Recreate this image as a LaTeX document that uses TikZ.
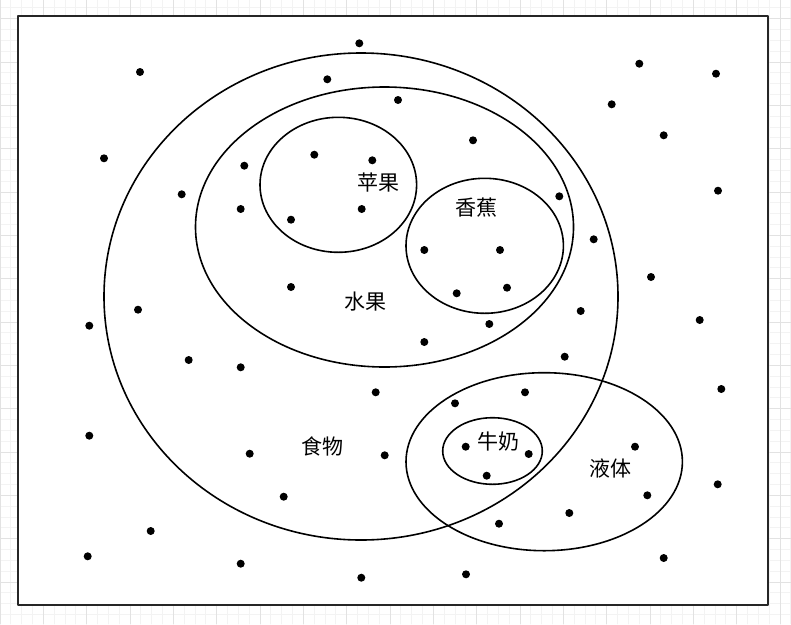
\documentclass[tikz,border=0pt]{standalone}
\usepackage{fontspec}
\setmainfont{Noto Sans CJK SC}
\definecolor{gridminor}{HTML}{F3F3F3}
\definecolor{gridmajor}{HTML}{E2E2E2}
\tikzset{
  setline/.style={line width=1.6pt},
  setlabel/.style={font=\fontsize{21}{23}\selectfont, inner sep=0pt},
  elem/.style={fill=black}
}
\begin{document}
\begin{tikzpicture}[x=1pt, y=-1pt, line join=round, line cap=round]
		\useasboundingbox (0,0) rectangle (791,624);
		% canvas grid
		\foreach \k in {0,...,73}
			\draw[gridminor, line width=0.8pt] (\k*10.833,0) -- (\k*10.833,624);
		\foreach \k in {0,...,57}
			\draw[gridminor, line width=0.8pt] (0,7.87+\k*10.833) -- (791,7.87+\k*10.833);
		\foreach \k in {0,...,18}
			\draw[gridmajor, line width=0.8pt] (\k*43.333,0) -- (\k*43.333,624);
		\foreach \k in {0,...,14}
			\draw[gridmajor, line width=0.8pt] (0,18.7+\k*43.333) -- (791,18.7+\k*43.333);
		% universe
		\draw[line width=2pt, draw=black!85, fill=white] (18,16) rectangle (768,605);
		\coordinate (food) at (361,296.5);
		\coordinate (fruit) at (384.5,227);
		\coordinate (apple) at (338.3,184.8);
		\coordinate (banana) at (484.7,245.8);
		\coordinate (liquid) at (544.2,461.7);
		\coordinate (milk) at (492.5,451);
		\draw[setline] (food) ellipse [x radius=257, y radius=243.5];
		\draw[setline] (fruit) ellipse [x radius=189, y radius=140];
		\draw[setline] (apple) ellipse [x radius=78.3, y radius=67.5];
		\draw[setline] (banana) ellipse [x radius=78.7, y radius=67.5];
		\draw[setline] (liquid) ellipse [x radius=138.2, y radius=89];
		\draw[setline] (milk) ellipse [x radius=49.8, y radius=33.3];
		% elements
		\foreach \px/\py in {359.3/43.3, 140/72, 327.3/79.3, 398/100, 104/158.3, 244.3/165.7,
			314.3/154.7, 372.3/160.3, 181.7/194.3, 240.7/209, 291/219.7, 361.7/209,
			291/287, 138/309.7, 639.3/63.7, 716/73.7, 611.7/104.3, 663.7/135.3,
			473/140.3, 718/190.7, 559.3/196.3, 593.7/239.3, 424.3/250, 500/250,
			651/277, 456.7/293.3, 507/287.7, 580.7/311, 699.7/320, 89.3/325.7,
			188.7/360, 240.7/367.3, 375.7/392.3, 89.3/435.7, 249.7/453.7, 384.7/455.3,
			283.7/496.7, 150.7/531, 87.7/556.3, 240.7/563.7, 361.3/577.7, 489.3/324,
			424.3/342, 564.7/356.7, 721.3/389, 525/392.3, 455/403.3, 465.7/446.7,
			528.7/454, 486.7/475.7, 635/446.7, 717.7/484.3, 647.3/495.3, 569.3/513,
			499/523.7, 663.7/558, 466/574.3}
			\fill[elem] (\px,\py) circle (4);
		% labels
		\node[setlabel] (lblfood) at (322.8,446) {食物};
		\node[setlabel] (lblfruit) at (365,302) {水果};
		\node[setlabel] (lblapple) at (378.8,182.3) {苹果};
		\node[setlabel] (lblbanana) at (476,208) {香蕉};
		\node[setlabel] (lblliquid) at (610.7,468) {液体};
		\node[setlabel] (lblmilk) at (498,441.7) {牛奶};
	\end{tikzpicture}
\end{document}
